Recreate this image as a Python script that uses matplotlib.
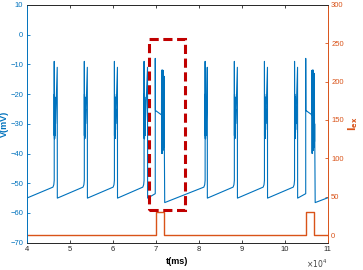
import matplotlib.pyplot as plt
from matplotlib.patches import Rectangle

# ---- data (time in ms, voltage in mV) ----
burst_t1 = [46400, 53400, 60400, 67300, 81500, 88300, 95300, 102300]   # first spike of each doublet
burst_t2 = [47100, 54100, 61100, 68100, 82000, 89000, 96000, 103000]   # second spike of each doublet
event_t = [69900, 104900]        # spikes triggered by the current pulse
event_end = [72100, 107100]      # end of the depolarised block after each event

# doublet shape: offset after first spike (ms) and voltage
burst_off = [0, 0, 20, 40, 60, 80, 100, 120, 140, 160, 180, 200, 220, 240, 260, 280, 300]
burst_v = [-49, -9, -34, -20, -35, -21, -35, -22, -34, -21, -34, -23, -33, -24, -32, -25, -30]
peak2_v = -11
reset_v = -55
# triggered event shape: offset (ms) and voltage
event_off = [0, 30, 1450, 1480, 1510, 1540, 1570, 1600, 1630, 1660, 1690, 1720, 1750,
             1780, 1810, 1840, 1870, 1900, 1930, 1960, 1990, 2020, 2050, 2080]
event_v = [-8, -25.5, -27, -12, -40, -12, -40, -12, -39, -12, -39, -12, -39,
           -12, -38, -13, -38, -13, -38, -14, -37, -14, -36, -30]
event_reset_v = -56.5
v_start, v_end = -55, -54.9

# current pulses
pulse_on = [70000, 104900]
pulse_off = [71900, 106900]
pulse_amp = 30

# ---- build the membrane trace ----
t, v = [40000], [v_start]

def ramp_to(tb, short=False):
    if short:
        t.append(tb); v.append(-53.5)
    else:
        t.extend([tb - 300, tb - 100]); v.extend([-51.3, -50.5])

events = sorted([(a, 'b', i) for i, a in enumerate(burst_t1)] +
                [(a, 'e', i) for i, a in enumerate(event_t)])
prev_end = 40000
for tt, kind, i in events:
    ramp_to(tt, short=(tt - prev_end) < 3000)
    if kind == 'b':
        for o, vv in zip(burst_off, burst_v):
            t.append(tt + o); v.append(vv)
        t.extend([burst_t2[i], burst_t2[i] + 20]); v.extend([peak2_v, reset_v])
        prev_end = burst_t2[i]
    else:
        for o, vv in zip(event_off, event_v):
            t.append(tt + o); v.append(vv)
        t.append(event_end[i]); v.append(event_reset_v)
        prev_end = event_end[i]
t.append(110000); v.append(v_end)

# stimulus step trace
st, sv = [40000], [0]
for a, b in zip(pulse_on, pulse_off):
    st += [a, a, b, b]
    sv += [0, pulse_amp, pulse_amp, 0]
st.append(110000); sv.append(0)

blue = '#0072BD'
orange = '#D95319'
plt.rcParams['font.family'] = ['Liberation Sans', 'DejaVu Sans']

fig = plt.figure(figsize=(3.63, 2.70), dpi=100)
ax = fig.add_axes([0.0736, 0.101, 0.829, 0.881])
ax2 = ax.twinx()
ax.set_zorder(2)
ax.patch.set_visible(False)

ax2.plot(st, sv, color=orange, lw=1.0)
ax2.set_ylim(-10, 300)
ax2.set_yticks([0, 50, 100, 150, 200, 250, 300])

ax.plot(t, v, color=blue, lw=0.8)
ax.set_xlim(40000, 110000)
ax.set_ylim(-70, 10)
ax.set_yticks(range(-70, 11, 10))
ax.set_xticks(range(40000, 110001, 10000))
ax.set_xticklabels([str(k) for k in range(4, 12)])

# red dashed highlight box
ax.add_patch(Rectangle((68400, -59), 8400, 57.5, fill=False, ec='#C00000',
                       lw=2.2, ls=(0, (3, 1.5)), zorder=5))

for a in (ax, ax2):
    a.tick_params(direction='in', length=2.5, width=0.6, labelsize=5.5, pad=2.5)
    for s in a.spines.values():
        s.set_linewidth(0.6)
        s.set_color('#262626')
ax.tick_params(axis='x', top=True, colors='#262626')
ax.tick_params(axis='y', colors=blue)
ax2.tick_params(axis='y', colors=orange)
ax.spines['left'].set_color(blue)
ax2.spines['left'].set_color(blue)
ax.spines['right'].set_color(orange)
ax2.spines['right'].set_color(orange)

ax.set_ylabel('V(mV)', color=blue, fontsize=6.5, fontweight='bold', labelpad=1)
ax2.set_ylabel(r'$\mathbf{I_{ex}}$', color=orange, fontsize=7, rotation=90, labelpad=2)
ax.set_xlabel('t(ms)', fontsize=6.5, fontweight='bold', labelpad=3)
ax.text(1.0, -0.088, r'$\times10^4$', transform=ax.transAxes, ha='right', va='center',
        fontsize=5.5, color='#404040')

fig.savefig('out.png', dpi=100)
